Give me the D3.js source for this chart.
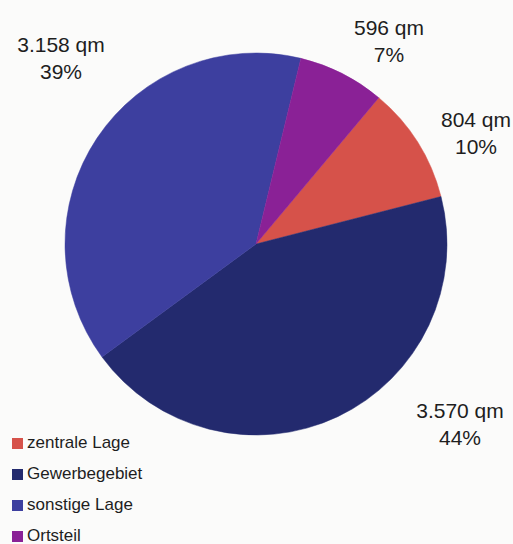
<!DOCTYPE html>
<html><head><meta charset="utf-8">
<script src="https://cdn.jsdelivr.net/npm/d3@7"></script>
<style>html,body{margin:0;padding:0;background:#fbfbfa;}svg{display:block;}</style>
</head><body>
<script>
const categories = ["zentrale Lage", "Gewerbegebiet", "sonstige Lage", "Ortsteil"];
const values = [804, 3570, 3158, 596];
const valueLabels = ["804 qm", "3.570 qm", "3.158 qm", "596 qm"];
const percentLabels = ["10%", "44%", "39%", "7%"];
const colors = ["#d6524a", "#232a6e", "#3d3f9f", "#8a2196"];

const W = 513, H = 544;
const cx = 256, cy = 244, R = 191;
const svg = d3.select("body").append("svg").attr("width", W).attr("height", H);
svg.append("rect").attr("width", W).attr("height", H).attr("fill", "#fbfbfa");

const start = 40 * Math.PI / 180;
const pie = d3.pie().sort(null).value(d => d).startAngle(start).endAngle(start + 2 * Math.PI);
const arcs = pie(values);
const arc = d3.arc().innerRadius(0).outerRadius(R);

const g = svg.append("g").attr("transform", `translate(${cx},${cy})`);
g.selectAll("path").data(arcs).enter().append("path")
  .attr("d", arc).attr("fill", (d, i) => colors[i])
  .attr("stroke", (d, i) => colors[i]).attr("stroke-width", 0.5);

// data labels: positions beside each slice
const labelPos = [[476, 127], [460, 418], [61, 52], [389, 35]];
const font = "Liberation Sans, Arial, sans-serif";
labelPos.forEach((p, i) => {
  const t = svg.append("text").attr("x", p[0]).attr("y", p[1])
    .attr("text-anchor", "middle").attr("font-family", font)
    .attr("font-size", 21).attr("fill", "#1e1e1e");
  t.append("tspan").attr("x", p[0]).text(valueLabels[i]);
  t.append("tspan").attr("x", p[0]).attr("dy", 27).text(percentLabels[i]);
});

// legend
const lg = svg.append("g");
categories.forEach((c, i) => {
  const y = 448 + i * 31;
  lg.append("rect").attr("x", 12).attr("y", y - 10).attr("width", 11).attr("height", 11).attr("fill", colors[i]);
  lg.append("text").attr("x", 27).attr("y", y).attr("font-family", font)
    .attr("font-size", 17).attr("fill", "#1e1e1e").text(c);
});
</script>
</body></html>
